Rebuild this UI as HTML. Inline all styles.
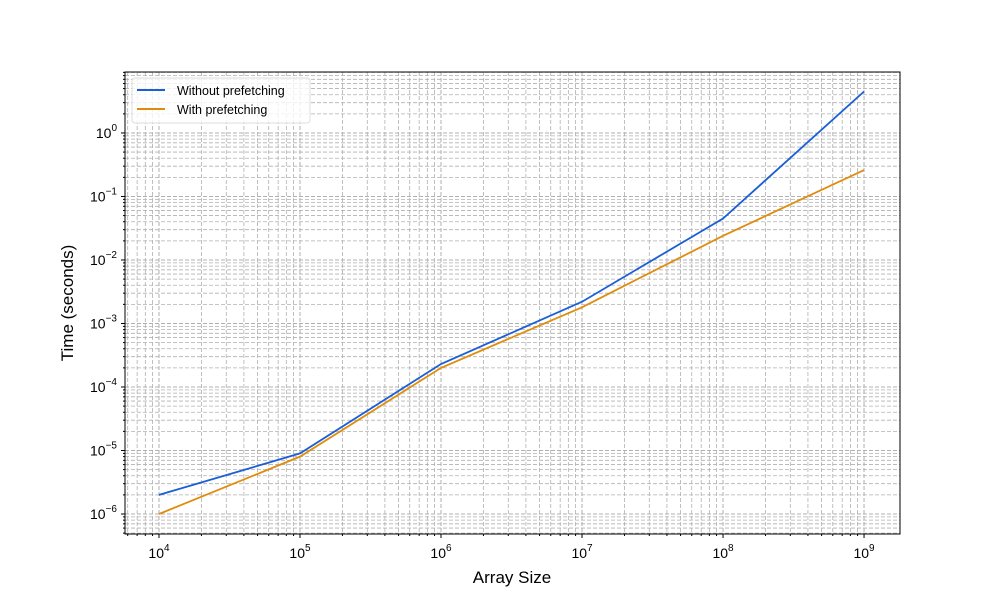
<!DOCTYPE html>
<html><head><meta charset="utf-8"><style>body{margin:0;background:#fff}svg{display:block}text{font-family:"Liberation Sans",sans-serif;fill:#000}</style></head>
<body>
<svg id="chart" width="1000" height="600">
<g id="grid"></g>
<g id="series"></g>
<rect x="125" y="72" width="775" height="462" fill="none" stroke="#000" stroke-width="1"/>
<g id="ticks"></g>
<text x="512" y="583" font-size="17" text-anchor="middle">Array Size</text>
<text transform="translate(73,303) rotate(-90)" font-size="17" text-anchor="middle">Time (seconds)</text>
<g>
<rect x="132" y="78" width="178" height="45" rx="3" fill="#fff" fill-opacity="0.8" stroke="#ddd"/>
<line x1="137" y1="90" x2="165" y2="90" stroke="#1a5fd6" stroke-width="2"/>
<text x="177" y="95" font-size="12.5">Without prefetching</text>
<line x1="137" y1="109" x2="165" y2="109" stroke="#e08c0c" stroke-width="2"/>
<text x="177" y="114" font-size="12.5">With prefetching</text>
</g>
</svg>
<script>
const sizes=[1e4,1e5,1e6,1e7,1e8,1e9];
const withoutPrefetch=[2e-6,9e-6,2.3e-4,2.2e-3,0.045,4.5];
const withPrefetch=[1e-6,8e-6,2e-4,1.8e-3,0.024,0.26];
const xTicks=[4,5,6,7,8,9];
const yTicks=[-6,-5,-4,-3,-2,-1,0];
const L=125,R=900,T=72,B=534,xmin=3.759,xmax=9.255,ymin=-6.315,ymax=0.96;
const X=v=>L+(Math.log10(v)-xmin)/(xmax-xmin)*(R-L);
const Y=v=>B-(Math.log10(v)-ymin)/(ymax-ymin)*(B-T);
const NS="http://www.w3.org/2000/svg";
const mk=(p,t,a)=>{const e=document.createElementNS(NS,t);for(const k in a)e.setAttribute(k,a[k]);p.appendChild(e);return e;};
const grid=document.getElementById('grid'),ticks=document.getElementById('ticks'),series=document.getElementById('series');
for(let d=3;d<=9;d++)for(let m=1;m<10;m++){const v=m*Math.pow(10,d),x=X(v);if(x<L||x>R)continue;
 const g=mk(grid,'line',{x1:x,x2:x,y1:T,y2:B,stroke:'#b0b0b0','stroke-dasharray':'4,2','stroke-width':m==1?1:0.8});
 
 const t=mk(ticks,'line',{x1:x,x2:x,y1:B,y2:B+(m==1?4:2),stroke:'#000'});
 }
for(let d=-7;d<=0;d++)for(let m=1;m<10;m++){const v=m*Math.pow(10,d),y=Y(v);if(y<T||y>B)continue;
 const g=mk(grid,'line',{x1:L,x2:R,y1:y,y2:y,stroke:'#b0b0b0','stroke-dasharray':'4,2','stroke-width':m==1?1:0.8});
 
 const t=mk(ticks,'line',{x1:L,x2:L-(m==1?4:2),y1:y,y2:y,stroke:'#000'});
 }
xTicks.forEach(e=>{const x=X(Math.pow(10,e));const t=mk(ticks,'text',{x:x,y:B+24,'font-size':14,'text-anchor':'middle'});
 
 t.innerHTML='10<tspan dy="-7" font-size="10">'+e+'</tspan>';});
yTicks.forEach(e=>{const y=Y(Math.pow(10,e));const t=mk(ticks,'text',{x:L-8,y:y+5,'font-size':14,'text-anchor':'end'});
 
 t.innerHTML='10<tspan dy="-7" font-size="10">'+(e<0?'\u2212'+(-e):e)+'</tspan>';});
function line(vals,col,name){const p=mk(series,'polyline',{points:sizes.map((s,i)=>X(s)+','+Y(vals[i])).join(' '),fill:'none',stroke:col,'stroke-width':1.8});
 }
line(withPrefetch,'#e08c0c','line-with-prefetching');
line(withoutPrefetch,'#1a5fd6','line-without-prefetching');
</script>
</body></html>
